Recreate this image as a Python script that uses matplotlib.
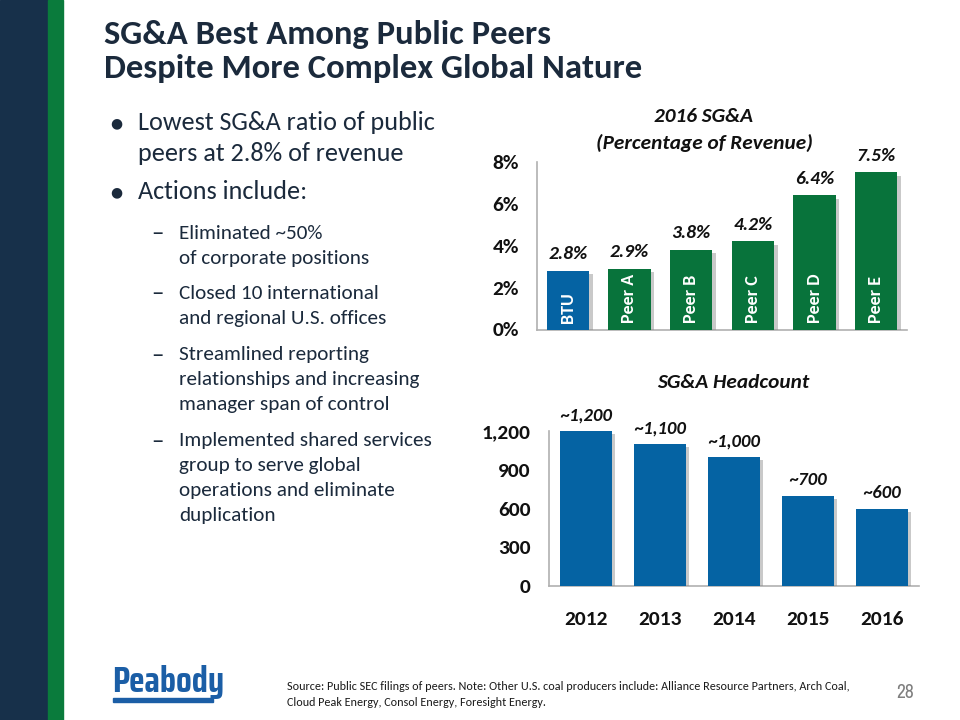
import matplotlib as mpl
import matplotlib.pyplot as plt
import matplotlib.patheffects as pe
from matplotlib.patches import Rectangle

# data
peers = ["BTU", "Peer A", "Peer B", "Peer C", "Peer D", "Peer E"]
sga_pct = [2.8, 2.9, 3.8, 4.2, 6.4, 7.5]
pct_ticks = [0, 2, 4, 6, 8]

years = ["2012", "2013", "2014", "2015", "2016"]
headcount = [1200, 1100, 1000, 700, 600]
headcount_labels = ["~1,200", "~1,100", "~1,000", "~700", "~600"]
hc_ticks = [0, 300, 600, 900, 1200]

title_lines = ["SG&A Best Among Public Peers", "Despite More Complex Global Nature"]
bullets = [
    ("main", ["Lowest SG&A ratio of public", "peers at 2.8% of revenue"]),
    ("main", ["Actions include:"]),
    ("sub", ["Eliminated ~50%", "of corporate positions"]),
    ("sub", ["Closed 10 international", "and regional U.S. offices"]),
    ("sub", ["Streamlined reporting", "relationships and increasing", "manager span of control"]),
    ("sub", ["Implemented shared services", "group to serve global",
             "operations and eliminate", "duplication"]),
]
source_lines = [
    "Source: Public SEC filings of peers. Note: Other U.S. coal producers include: Alliance Resource Partners, Arch Coal,",
    "Cloud Peak Energy, Consol Energy, Foresight Energy.",
]

GREEN = "#08733b"
BLUE = "#0563a3"
TXT = "#1b2a3c"

plt.rcParams["font.family"] = ["Carlito", "DejaVu Sans"]
W, H = 960, 720


def fx(x):
    return x / W


def fy(y):
    return 1 - y / H


def main():
    fig = plt.figure(figsize=(9.6, 7.2), dpi=100)

    # side strips
    fig.patches.append(Rectangle((0, 0), fx(48), 1, transform=fig.transFigure,
                                 color="#17304a", zorder=0))
    fig.patches.append(Rectangle((fx(48), 0), fx(15), 1, transform=fig.transFigure,
                                 color="#0a7b3c", zorder=0))

    # title
    for i, line in enumerate(title_lines):
        fig.text(fx(104), fy(44 + 34 * i), line, fontsize=24.9, fontweight="bold",
                 color=TXT, va="baseline", ha="left")

    # bullets (baselines in px)
    y_main = [130, 161, 199]
    y_sub = [239, 264, 299, 324, 360, 385, 410, 446, 471, 496, 521]
    im = isub = 0
    for kind, lines in bullets:
        for j, line in enumerate(lines):
            if kind == "main":
                y = y_main[im]; im += 1
                if j == 0:
                    fig.text(fx(116), fy(y - 7), "\u25cf", fontsize=10, color=TXT,
                             ha="center", va="center", family="DejaVu Sans")
                fig.text(fx(138), fy(y), line, fontsize=18.8, color=TXT,
                         ha="left", va="baseline")
            else:
                y = y_sub[isub]; isub += 1
                if j == 0:
                    fig.text(fx(157), fy(y - 5), "\u2013", fontsize=18, color=TXT,
                             ha="center", va="center")
                fig.text(fx(179), fy(y), line, fontsize=15.2, color=TXT,
                         ha="left", va="baseline")

    shadow = [pe.SimplePatchShadow(offset=(2.5, -2.5), shadow_rgbFace="#888888", alpha=0.45),
              pe.Normal()]

    # top chart
    ax1 = fig.add_axes([fx(537), fy(329.5), fx(907) - fx(537), fy(161.7) - fy(329.5)])
    colors = [BLUE] + [GREEN] * (len(peers) - 1)
    x1 = range(len(peers))
    bars = ax1.bar(x1, sga_pct, width=0.69, color=colors, zorder=3)
    for b in bars:
        b.set_path_effects(shadow)
    for i, v in enumerate(sga_pct):
        ax1.text(i, v + 0.4, f"{v:.1f}%", ha="center", va="bottom", fontsize=14,
                 fontweight="bold", fontstyle="italic", color="#111111")
        ax1.text(i, 0.3, peers[i], rotation=90, ha="center", va="bottom",
                 fontsize=13, fontweight="bold", color="white", zorder=4)
    ax1.set_xlim(-0.5, len(peers) - 0.5)
    ax1.set_ylim(0, 8)
    ax1.set_yticks(pct_ticks)
    ax1.set_yticklabels([f"{t}%" for t in pct_ticks])
    ax1.set_xticks([])

    # bottom chart
    ax2 = fig.add_axes([fx(549), fy(586), fx(919) - fx(549), fy(431) - fy(586)])
    x2 = range(len(years))
    bars2 = ax2.bar(x2, headcount, width=0.70, color=BLUE, zorder=3)
    for b in bars2:
        b.set_path_effects(shadow)
    for i, v in enumerate(headcount):
        ax2.text(i, v + 55, headcount_labels[i], ha="center", va="bottom", fontsize=13.4,
                 fontweight="bold", fontstyle="italic", color="#111111")
    ax2.set_xlim(-0.5, len(years) - 0.5)
    ax2.set_ylim(0, 1200)
    ax2.set_yticks(hc_ticks)
    ax2.set_yticklabels([f"{t:,}" for t in hc_ticks])
    ax2.set_xticks(list(x2))
    ax2.set_xticklabels(years)

    for ax in (ax1, ax2):
        for s in ("top", "right"):
            ax.spines[s].set_visible(False)
        for s in ("left", "bottom"):
            ax.spines[s].set_color("#b0b0b0")
            ax.spines[s].set_linewidth(1.2)
        ax.tick_params(length=0, labelsize=15.4, pad=13, labelcolor="#111111")
        for lab in ax.get_xticklabels() + ax.get_yticklabels():
            lab.set_fontweight("bold")
        ax.set_facecolor("none")
    ax2.tick_params(axis="x", pad=18)

    # chart titles
    fig.text(fx(704), fy(117), "2016 SG&A", ha="center", va="center", fontsize=15.3,
             fontweight="bold", fontstyle="italic", color="#111111")
    fig.text(fx(704), fy(143), "(Percentage of Revenue)", ha="center", va="center",
             fontsize=15.3, fontweight="bold", fontstyle="italic", color="#111111")
    fig.text(fx(733), fy(382), "SG&A Headcount", ha="center", va="center", fontsize=15.3,
             fontweight="bold", fontstyle="italic", color="#111111")

    # logo
    fig.text(fx(112), fy(692), "Peabody", ha="left", va="baseline", fontsize=26,
             fontweight="bold", color="#1b5ea6",
             family=["Saira Condensed", "DejaVu Sans"])
    fig.patches.append(Rectangle((fx(113), fy(702)), fx(100), 4 / H,
                                 transform=fig.transFigure, color="#1b5ea6"))

    # footer
    for i, line in enumerate(source_lines):
        fig.text(fx(287), fy(686 + 17 * i), line, ha="left", va="center",
                 fontsize=8.7, color="#1a1a1a")
    fig.text(fx(905), fy(692), "28", ha="center", va="center", fontsize=14,
             color="#7f7f7f", family=["Archivo Narrow", "DejaVu Sans"])

    fig.savefig("out.png", dpi=100)
    plt.close(fig)


if __name__ == "__main__":
    main()
